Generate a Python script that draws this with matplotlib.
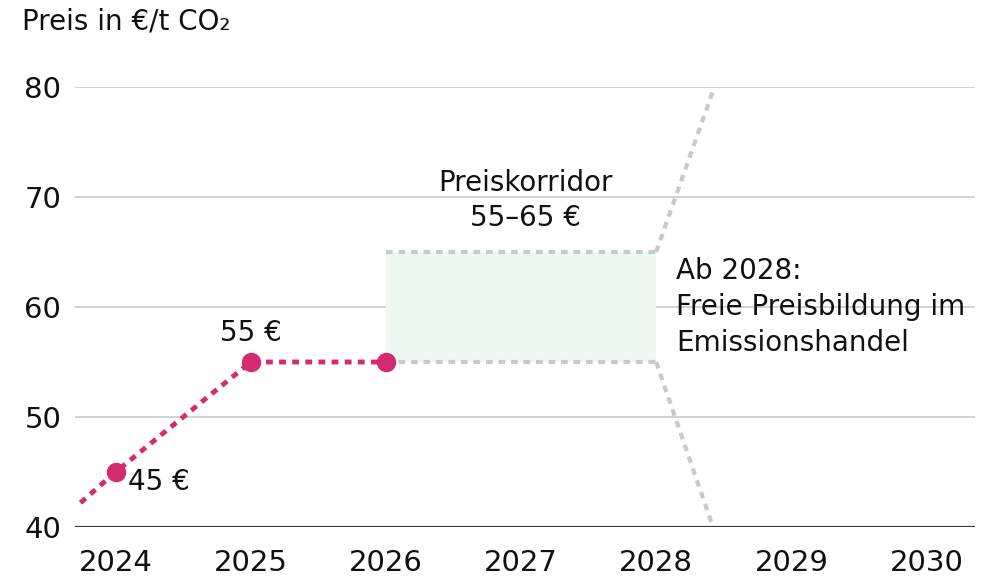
import matplotlib.pyplot as plt

plt.rcParams['font.family'] = ['DejaVu Sans']

# data
years = [2024, 2025, 2026]
prices = [45, 55, 55]
lead_in = (2023.74, 42.2)          # where the dotted line enters the chart
corridor_years = [2026, 2028]
corridor_low = 55
corridor_high = 65
free_up = (2028.43, 80)            # upper dotted line end
free_down = (2028.42, 40)          # lower dotted line end
xticks = [2024, 2025, 2026, 2027, 2028, 2029, 2030]
yticks = [40, 50, 60, 70, 80]

pink = '#d42a6f'
grey_dot = '#c9c9c9'
ink = '#111111'

fig = plt.figure(figsize=(9.82, 5.78), dpi=100)
ax = fig.add_axes([0.0764, 0.0882, 0.9166, 0.7613])

ax.set_xlim(2023.70, 2030.36)
ax.set_ylim(40, 80)

# gridlines
for y in yticks[1:]:
    ax.axhline(y, color='#cfcfcf', lw=1.3, zorder=1)
ax.axhline(40, color='#3a3a3a', lw=1.6, zorder=2)

# corridor
ax.fill_between(corridor_years, corridor_low, corridor_high,
                color='#ecf8f1', lw=0, zorder=1.5)
ax.plot(corridor_years, [corridor_high] * 2, color=grey_dot, lw=3.0,
        dashes=(1.6, 1.4), zorder=3)
ax.plot(corridor_years, [corridor_low] * 2, color=grey_dot, lw=3.0,
        dashes=(1.6, 1.4), zorder=3)

# free price formation after 2028
ax.plot([corridor_years[1], free_up[0]], [corridor_high, free_up[1]],
        color=grey_dot, lw=3.0, dashes=(1.6, 1.4), zorder=3)
ax.plot([corridor_years[1], free_down[0]], [corridor_low, free_down[1]],
        color=grey_dot, lw=3.0, dashes=(1.6, 1.4), zorder=3)

# fixed prices
ax.plot([lead_in[0]] + years, [lead_in[1]] + prices, color=pink, lw=3.5,
        dashes=(1.4, 1.3), zorder=4)
ax.plot(years, prices, 'o', color=pink, ms=13, zorder=5)

ax.text(years[0] + 0.09, prices[0] - 0.95, '45 €', fontsize=20,
        ha='left', va='center', color=ink)
ax.text(years[1], prices[1] + 2.6, '55 €', fontsize=20,
        ha='center', va='center', color=ink)
ax.text(2027.03, 69.7, 'Preiskorridor\n55–65 €', fontsize=20,
        ha='center', va='center', linespacing=1.3, color=ink)
ax.text(2028.15, 60.0, 'Ab 2028:\nFreie Preisbildung im\nEmissionshandel',
        fontsize=20, ha='left', va='center', linespacing=1.38, color=ink)

ax.set_xticks(xticks)
ax.set_yticks(yticks)
ax.tick_params(axis='both', length=0, labelsize=21, colors=ink)
ax.tick_params(axis='x', pad=16)
ax.tick_params(axis='y', pad=10)
for s in ax.spines.values():
    s.set_visible(False)

fig.text(22 / 982, 1 - 22 / 578, 'Preis in €/t CO₂', fontsize=20,
         ha='left', va='center', color=ink)

fig.savefig('out.png', dpi=100, facecolor='white')
